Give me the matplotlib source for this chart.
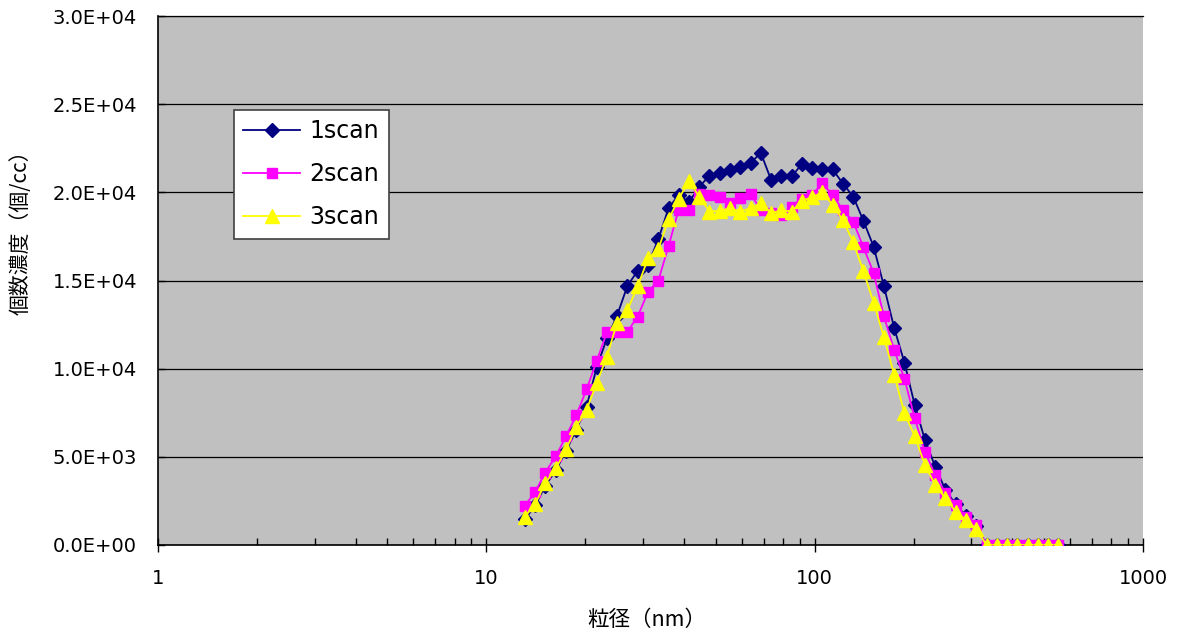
import matplotlib
matplotlib.use("Agg")
import matplotlib.pyplot as plt
from matplotlib.ticker import FixedLocator, FuncFormatter, LogLocator, NullFormatter

plt.rcParams['font.family'] = ['DejaVu Sans', 'Noto Sans CJK JP']

# Particle diameter channels (nm), 32 channels per decade
diameter = [13.1, 14.1, 15.1, 16.3, 17.5, 18.8, 20.2, 21.7, 23.3, 25.0,
            26.9, 28.9, 31.1, 33.4, 35.9, 38.5, 41.4, 44.5, 47.8, 51.4,
            55.2, 59.4, 63.8, 68.5, 73.7, 79.1, 85.1, 91.4, 98.2, 105.5,
            113.4, 121.9, 131.0, 140.7, 151.2, 162.5, 174.7, 187.7, 201.7, 216.7,
            232.9, 250.3, 269.0, 289.0, 310.6, 333.8, 358.7, 385.4, 414.2, 445.1,
            478.3, 514.0, 552.3]

# Number concentration (count/cc) for each scan
scan1 = [1450, 2250, 3350, 4250, 5350, 6550, 7850, 10100, 11720, 13000,
         14700, 15550, 15900, 17340, 19100, 19850, 19450, 20300, 20950, 21100,
         21270, 21460, 21650, 22250, 20700, 20950, 20900, 21600, 21400, 21300,
         21300, 20500, 19760, 18400, 16920, 14690, 12300, 10340, 7940, 5960,
         4440, 3120, 2300, 1650, 1100, 0, 0, 0, 0, 0,
         0, 0, 0]
scan2 = [2230, 3020, 4100, 5050, 6180, 7370, 8830, 10450, 12070, 12100,
         12100, 12950, 14370, 14990, 16960, 19000, 19000, 19900, 19850, 19760,
         19380, 19670, 19910, 19000, 18800, 18700, 19190, 19650, 19850, 20520,
         19850, 19000, 18340, 16900, 15430, 12970, 11060, 9420, 7190, 5290,
         3970, 2950, 2270, 1600, 1130, 0, 0, 0, 0, 0,
         0, 0, 0]
scan3 = [1600, 2330, 3500, 4350, 5430, 6710, 7660, 9200, 10680, 12600,
         13330, 14670, 16260, 16770, 18470, 19610, 20660, 19750, 18910, 18950,
         19100, 18910, 19100, 19380, 18810, 19000, 18910, 19530, 19720, 20000,
         19290, 18430, 17180, 15530, 13750, 11800, 9640, 7470, 6180, 4540,
         3400, 2650, 1890, 1420, 890, 0, 0, 0, 0, 0,
         0, 0, 0]

series_labels = ['1scan', '2scan', '3scan']
y_ticks = [0, 5000, 10000, 15000, 20000, 25000, 30000]
x_ticks = [1, 10, 100, 1000]

fig = plt.figure(figsize=(11.82, 6.39), dpi=100)
ax = fig.add_axes([158 / 1182, 94 / 639, 985 / 1182, 529 / 639])
ax.set_facecolor('#C0C0C0')

ax.plot(diameter, scan1, color='#000080', lw=1.3, marker='D', ms=7.5,
        mfc='#000080', mec='#000080', label=series_labels[0], zorder=3)
ax.plot(diameter, scan2, color='#FF00FF', lw=1.3, marker='s', ms=7.5,
        mfc='#FF00FF', mec='#FF00FF', label=series_labels[1], zorder=4)
ax.plot(diameter, scan3, color='#FFFF00', lw=1.3, marker='^', ms=9.5,
        mfc='#FFFF00', mec='#FFFF00', label=series_labels[2], zorder=5)

ax.set_xscale('log')
ax.set_xlim(1, 1000)
ax.set_ylim(0, 30000)

ax.xaxis.set_major_locator(FixedLocator(x_ticks))
ax.xaxis.set_major_formatter(FuncFormatter(lambda v, p: f'{v:g}'))
ax.xaxis.set_minor_locator(LogLocator(base=10, subs=range(2, 10)))
ax.xaxis.set_minor_formatter(NullFormatter())

ax.yaxis.set_major_locator(FixedLocator(y_ticks))
ax.yaxis.set_major_formatter(FuncFormatter(lambda v, p: f'{v:.1E}'))

ax.grid(axis='y', color='black', lw=0.9, zorder=1)
ax.set_axisbelow(True)

for side in ('left', 'bottom'):
    ax.spines[side].set_color('black')
    ax.spines[side].set_linewidth(1.2)
ax.spines['top'].set_color('black')
ax.spines['top'].set_linewidth(0.9)
ax.spines['right'].set_visible(False)

ax.tick_params(axis='x', which='major', direction='inout', length=10,
               width=1, pad=12, labelsize=14, colors='black')
ax.tick_params(axis='x', which='minor', direction='in', length=5, width=1)
ax.tick_params(axis='y', which='major', direction='in', length=5, width=1,
               pad=15, labelsize=14)

cjk = ['Noto Sans CJK JP', 'DejaVu Sans']
ax.set_xlabel('粒径（nm）', fontsize=15.5, family=cjk)
ax.xaxis.set_label_coords(0.496, -0.12)
ax.set_ylabel('個数濃度（個/cc）', fontsize=15, family=cjk)
ax.yaxis.set_label_coords(-0.128, 0.60)

leg = ax.legend(loc='upper left', bbox_to_anchor=(234 / 1182, 1 - 110 / 639),
                bbox_transform=fig.transFigure, fontsize=17, frameon=True,
                fancybox=False, framealpha=1, edgecolor='#404040',
                handlelength=2.4, handletextpad=0.4, labelspacing=0.8,
                borderpad=0.4, borderaxespad=0)
leg.get_frame().set_linewidth(1.2)
leg.set_zorder(10)

fig.savefig('out.png', dpi=100, facecolor='white')
